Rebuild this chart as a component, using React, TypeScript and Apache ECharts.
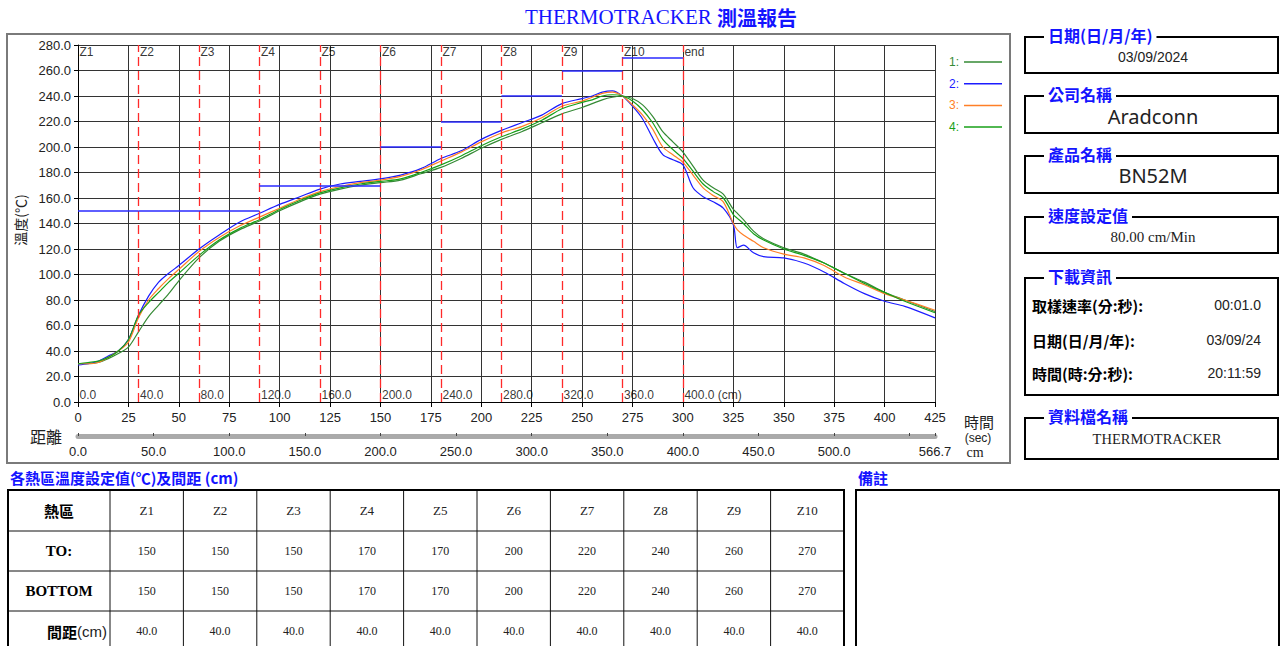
import React, { useEffect, useRef } from 'react';
import * as echarts from 'echarts';

// ---------- data ----------
const timeSec = [0, 5, 10, 15, 20, 25, 30, 35, 40, 45, 50,
  60, 70, 80, 90, 100, 110, 120, 130, 140, 150, 160, 170, 180, 190, 200, 210, 220, 230, 240, 250,
  255, 260, 265, 270, 275, 280, 285, 290, 295, 300, 305, 310, 315, 320, 325,
  327, 330, 335, 340, 350, 360, 370, 380, 390, 400, 410, 425];

const probe1 = [30, 30, 31, 34, 38, 43, 55, 67, 76, 85, 95,
  113, 126, 135, 142, 150, 157, 163, 167, 170, 172, 174, 179, 184, 191, 199, 206, 212, 219, 226, 231,
  234, 237, 239, 240, 238, 233, 224, 212, 204, 196, 185, 174, 168, 163, 151,
  148, 143, 134, 128, 121, 116, 109, 101, 94, 86, 80, 71];
const probe2 = [29, 30, 32, 36, 40, 49, 68, 83, 94, 101, 107,
  120, 131, 141, 148, 155, 161, 167, 171, 173, 175, 178, 183, 191, 197, 206, 213, 219, 225, 234, 238,
  240, 243, 244, 240, 232, 222, 207, 194, 190, 186, 168, 161, 157, 152, 139,
  121, 123, 117, 114, 113, 109, 102, 93, 85, 79, 75, 66];
const probe3 = [30, 30, 31, 35, 40, 47, 66, 80, 89, 97, 104,
  118, 129, 138, 145, 152, 159, 165, 169, 172, 174, 177, 182, 189, 196, 204, 211, 216, 223, 232, 236,
  239, 242, 243, 240, 233, 225, 214, 200, 194, 188, 178, 168, 162, 157, 140,
  135, 131, 126, 121, 116, 113, 107, 98, 92, 85, 80, 72];
const probe4 = [30, 31, 32, 35, 40, 49, 68, 78, 86, 94, 101,
  115, 127, 136, 143, 151, 158, 164, 168, 171, 173, 175, 180, 186, 193, 201, 208, 214, 221, 230, 235,
  237, 240, 241, 240, 236, 229, 219, 206, 198, 191, 181, 171, 165, 160, 147,
  144, 140, 132, 127, 120, 115, 109, 101, 93, 86, 79, 70];

const probeNames = ['1:', '2:', '3:', '4:'];
const probeColors = ['#358a35', '#1c1cff', '#ff7f27', '#18a018'];

const zoneNames = ['Z1', 'Z2', 'Z3', 'Z4', 'Z5', 'Z6', 'Z7', 'Z8', 'Z9', 'Z10'];
const zoneBoundSec = [0, 30, 60, 90, 120, 150, 180, 210, 240, 270, 300];
const zoneBoundNames = ['Z1', 'Z2', 'Z3', 'Z4', 'Z5', 'Z6', 'Z7', 'Z8', 'Z9', 'Z10', 'end'];
const zoneDistLabels = ['0.0', '40.0', '80.0', '120.0', '160.0', '200.0', '240.0', '280.0', '320.0', '360.0', '400.0 (cm)'];
const topSet = [150, 150, 150, 170, 170, 200, 220, 240, 260, 270];
const bottomSet = [150, 150, 150, 170, 170, 200, 220, 240, 260, 270];
const zoneGap = ['40.0', '40.0', '40.0', '40.0', '40.0', '40.0', '40.0', '40.0', '40.0', '40.0'];

const timeMax = 425;
const tempMax = 280;
const distMax = 566.7;
const distLabelValues = [0, 50, 100, 150, 200, 250, 300, 350, 400, 450, 500, 566.7];
const distTickValues = [0, 50, 100, 150, 200, 250, 300, 350, 400, 450, 500, 550, 566.7];

const infoDate = '03/09/2024';
const infoCompany = 'Aradconn';
const infoProduct = 'BN52M';
const infoSpeed = '80.00 cm/Min';
const dlRows = [
  ['取樣速率(分:秒):', '00:01.0'],
  ['日期(日/月/年):', '03/09/24'],
  ['時間(時:分:秒):', '20:11:59'],
];
const infoFile = 'THERMOTRACKER';

// ---------- fonts ----------
const SANS = '"Liberation Sans", Arial, sans-serif';
const NARROW = '"Liberation Sans Narrow", "Liberation Sans", Arial, sans-serif';
const SERIF = '"Liberation Serif", "Times New Roman", serif';
const CJK = '"Noto Sans CJK TC", "Noto Sans CJK SC", sans-serif';
const NOTO = '"Noto Sans", "Open Sans", sans-serif';
const BLUE = '#1414ff';

function buildGraphic() {
  const g: any[] = [];
  const txt = (x: number, y: number, text: string, font: string, fill = '#000', align = 'left', extra: any = {}) =>
    g.push({ type: 'text', x, y, silent: true, style: { text, font, fill, align, verticalAlign: 'middle', ...extra } });
  const rect = (x: number, y: number, w: number, h: number, stroke = '#000', lw = 2) =>
    g.push({ type: 'rect', silent: true, shape: { x, y, width: w, height: h }, style: { fill: 'none', stroke, lineWidth: lw } });
  const line = (x1: number, y1: number, x2: number, y2: number, stroke = '#000', lw = 1) =>
    g.push({ type: 'line', silent: true, shape: { x1, y1, x2, y2 }, style: { stroke, lineWidth: lw } });

  // title
  g.push({
    type: 'text', x: 661, y: 17, silent: true,
    style: {
      text: '{a|THERMOTRACKER }{b|測溫報告}', align: 'center', verticalAlign: 'middle',
      rich: {
        a: { font: `21px ${SERIF}`, fill: BLUE },
        b: { font: `bold 20px ${CJK}`, fill: BLUE },
      },
    },
  });

  // chart frame
  rect(7, 34, 1003, 429, '#7a7a7a', 2);
  // axis titles
  g.push({ type: 'text', x: 20, y: 220, rotation: Math.PI / 2, silent: true,
    style: { text: '溫度(℃)', font: `14px ${CJK}`, fill: '#222', align: 'center', verticalAlign: 'middle' } });
  txt(979, 421, '時間', `15px ${CJK}`, '#222', 'center');
  txt(978, 438, '(sec)', `12px ${SANS}`, '#222', 'center');
  txt(975, 452, 'cm', `14px ${SERIF}`, '#222', 'center');

  // right panels
  const panel = (y: number, h: number, label: string) => {
    rect(1025, y, 253, h, '#000', 2);
    txt(1044, y - 2, label, `bold 16px ${CJK}`, BLUE, 'left', { backgroundColor: '#fff', padding: [0, 4, 0, 4] });
  };
  panel(37, 36, '日期(日/月/年)');
  txt(1153, 57, infoDate, `14px ${NARROW}`, '#222', 'center');
  panel(96, 37, '公司名稱');
  txt(1153, 116, infoCompany, `20px ${NOTO}`, '#222', 'center');
  panel(156, 37, '產品名稱');
  txt(1153, 175, infoProduct, `20px ${NOTO}`, '#222', 'center');
  panel(217, 36, '速度設定值');
  txt(1153, 237, infoSpeed, `15px ${SERIF}`, '#222', 'center');
  panel(278, 117, '下載資訊');
  const dlY = [305, 340, 373];
  dlRows.forEach((r, i) => {
    txt(1032, dlY[i], r[0], `bold 15px ${CJK}`, '#000', 'left');
    txt(1261, dlY[i], r[1], `14px ${NARROW}`, '#222', 'right');
  });
  panel(418, 41, '資料檔名稱');
  txt(1157, 439, infoFile, `14.5px ${SERIF}`, '#222', 'center');

  // bottom section
  txt(10, 477, '各熱區溫度設定值(℃)及間距 (cm)', `bold 15px ${CJK}`, BLUE, 'left');
  txt(858, 477, '備註', `bold 15px ${CJK}`, BLUE, 'left');
  rect(856, 490, 423, 161, '#000', 2);

  // table
  const tx = 8, ty = 490, firstW = 102, colW = 73.4;
  const rowsY = [ty, 531, 571, 611, 651];
  const right = tx + firstW + colW * zoneNames.length;
  for (let k = 0; k < zoneNames.length; k++) {
    const x = tx + firstW + colW * k;
    line(x, ty, x, rowsY[4], '#111', 1);
  }
  for (let r = 1; r < 4; r++) line(tx, rowsY[r], right, rowsY[r], '#111', 1);
  rect(tx, ty, right - tx, rowsY[4] - ty, '#000', 2);
  const midY = (r: number) => (rowsY[r] + rowsY[r + 1]) / 2;
  txt(tx + firstW / 2, midY(0), '熱區', `bold 15px ${CJK}`, '#000', 'center');
  txt(tx + firstW / 2, midY(1), 'TO:', `bold 15px ${SERIF}`, '#000', 'center');
  txt(tx + firstW / 2, midY(2), 'BOTTOM', `bold 15px ${SERIF}`, '#000', 'center');
  g.push({ type: 'text', x: 107, y: midY(3), silent: true,
    style: { text: '{a|間距}{b|(cm)}', align: 'right', verticalAlign: 'middle',
      rich: { a: { font: `bold 15px ${CJK}`, fill: '#000' }, b: { font: `15px ${SANS}`, fill: '#222' } } } });
  zoneNames.forEach((z, k) => {
    const cx = tx + firstW + colW * k + colW / 2;
    txt(cx, midY(0), z, `13px ${SERIF}`, '#222', 'center');
    txt(cx, midY(1), String(topSet[k]), `12px ${SERIF}`, '#222', 'center');
    txt(cx, midY(2), String(bottomSet[k]), `12px ${SERIF}`, '#222', 'center');
    txt(cx, midY(3), zoneGap[k], `12px ${SERIF}`, '#222', 'center');
  });
  return g;
}

function buildOption(): any {
  const probes = [probe1, probe2, probe3, probe4];
  const curveSeries = probes.map((p, k) => ({
    type: 'line',
    name: probeNames[k],
    data: timeSec.map((t, i) => [t, p[i]]),
    showSymbol: false,
    smooth: 0.3,
    lineStyle: { width: 1.2, color: probeColors[k] },
    itemStyle: { color: probeColors[k] },
    z: 4,
    silent: true,
  }));

  const setSegments = topSet.map((v, i) => [
    { coord: [zoneBoundSec[i], v], lineStyle: { color: '#2a2aff', width: 1.5, type: 'solid' } },
    { coord: [zoneBoundSec[i + 1], v] },
  ]);

  return {
    animation: false,
    backgroundColor: '#fff',
    grid: { left: 78, top: 45, width: 857, height: 357 },
    legend: {
      data: probeNames.map((n, k) => ({ name: n, textStyle: { color: probeColors[k] } })),
      orient: 'vertical', left: 944, top: 50, align: 'right', icon: 'rect',
      itemWidth: 38, itemHeight: 1.5, itemGap: 7.7, selectedMode: false,
      textStyle: { fontSize: 12, fontFamily: SANS, lineHeight: 14 },
    },
    xAxis: [
      {
        type: 'value', min: 0, max: timeMax, interval: 25,
        axisLine: { lineStyle: { color: '#000' } },
        axisTick: { length: 5, lineStyle: { color: '#000' } },
        axisLabel: { margin: 9, fontSize: 13, color: '#222', fontFamily: SANS },
        splitLine: { show: true, lineStyle: { color: '#333', width: 1 } },
      },
      {
        type: 'value', min: 0, max: distMax, position: 'bottom', offset: 34,
        name: '距離', nameLocation: 'start', nameGap: 16,
        nameTextStyle: { fontSize: 16, fontFamily: CJK, color: '#222' },
        axisLine: { lineStyle: { color: '#aaaaaa', width: 5 } },
        axisTick: { customValues: distTickValues, inside: true, length: 3, lineStyle: { color: '#444' } },
        axisLabel: { customValues: distLabelValues, formatter: (v: number) => v.toFixed(1), margin: 9, fontSize: 13, color: '#222', fontFamily: SANS },
        splitLine: { show: false },
      },
    ],
    yAxis: {
      type: 'value', min: 0, max: tempMax, interval: 20,
      axisLine: { show: true, lineStyle: { color: '#000' } },
      axisTick: { show: true, length: 4, lineStyle: { color: '#000' } },
      axisLabel: { formatter: (v: number) => v.toFixed(1), margin: 7, fontSize: 13, color: '#222', fontFamily: SANS },
      splitLine: { show: true, lineStyle: { color: '#333', width: 1 } },
    },
    series: [
      ...curveSeries,
      {
        type: 'scatter', name: 'zoneTop', symbolSize: 1, silent: true, z: 5,
        itemStyle: { color: 'transparent' },
        data: zoneBoundSec.map((t) => [t, tempMax]),
        label: {
          show: true, position: [2, 1], fontSize: 12, fontFamily: SANS, color: '#000',
          formatter: (p: any) => zoneBoundNames[p.dataIndex],
        },
        markLine: {
          silent: true, symbol: ['none', 'none'], label: { show: false },
          lineStyle: { color: '#ff2a2a', type: [9, 5], width: 1.3 },
          data: zoneBoundSec.slice(1).map((t) => ({ xAxis: t })),
        },
      },
      {
        type: 'scatter', name: 'zoneBottom', symbolSize: 1, silent: true, z: 5,
        itemStyle: { color: 'transparent' },
        data: zoneBoundSec.map((t) => [t, 0]),
        label: {
          show: true, position: [2, -13], fontSize: 12, fontFamily: SANS, color: '#000',
          formatter: (p: any) => zoneDistLabels[p.dataIndex],
        },
        markLine: {
          silent: true, symbol: ['none', 'none'], label: { show: false },
          data: setSegments,
        },
      },
    ],
    graphic: buildGraphic(),
  };
}

export default function App() {
  const ref = useRef<HTMLDivElement>(null);
  useEffect(() => {
    const chart = echarts.init(ref.current!, null, { renderer: 'svg' });
    chart.setOption(buildOption());
    return () => chart.dispose();
  }, []);
  return (
    <div
      ref={ref}
      style={{ position: 'fixed', left: 0, top: 0, width: 1280, height: 646, background: '#fff' }}
    />
  );
}
